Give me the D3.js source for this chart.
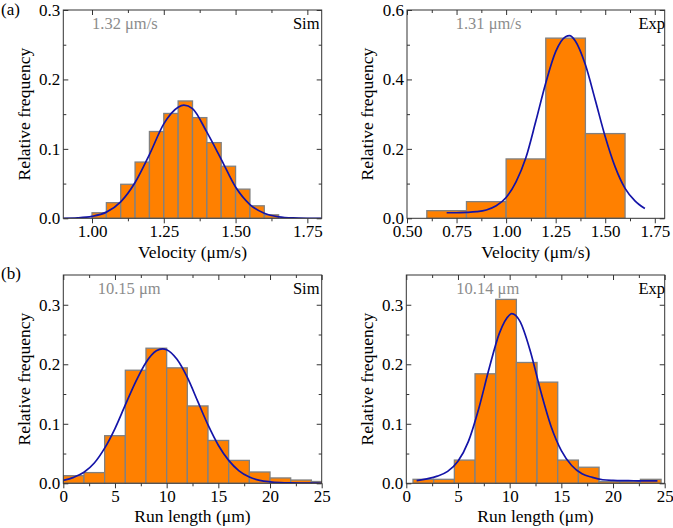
<!DOCTYPE html>
<html><head><meta charset="utf-8">
<script src="https://cdn.jsdelivr.net/npm/d3@7"></script>
<style>body{margin:0;background:#fff} svg text{font-family:"Liberation Serif","Times New Roman",serif;}</style>
</head><body><svg id="c" width="673" height="528"></svg>
<script>
// ---------- DATA ----------
// (a) velocity, simulation
const velSimEdges = [1.00,1.05,1.10,1.15,1.20,1.25,1.30,1.35,1.40,1.45,1.50,1.55,1.60,1.65];
const velSimFreq  = [0.008,0.0225,0.049,0.081,0.125,0.151,0.169,0.145,0.109,0.075,0.042,0.018,0.005];
const velSimFitX  = [0.90,0.95,1.00,1.05,1.10,1.15,1.20,1.25,1.30,1.32,1.35,1.40,1.45,1.50,1.55,1.60,1.65,1.70,1.75,1.80];
const velSimFitY  = [0.0001,0.0007,0.0028,0.0089,0.0237,0.0515,0.0918,0.136,0.160,0.163,0.158,0.124,0.085,0.045,0.0198,0.0072,0.0021,0.0005,0.0001,0];
// (a) velocity, experiment
const velExpEdges = [0.6,0.8,1.0,1.2,1.4,1.6];
const velExpFreq  = [0.022,0.048,0.171,0.519,0.244];
const velExpFitX  = [0.70,0.75,0.80,0.85,0.90,0.95,1.00,1.05,1.10,1.15,1.20,1.25,1.30,1.32,1.35,1.40,1.45,1.50,1.55,1.60,1.65,1.70];
const velExpFitY  = [0.016,0.016,0.017,0.019,0.024,0.036,0.060,0.105,0.175,0.280,0.390,0.480,0.523,0.526,0.510,0.442,0.340,0.235,0.148,0.086,0.050,0.028];
// (b) run length, simulation
const runSimEdges = [0,2,4,6,8,10,12,14,16,18,20,22,24,26];
const runSimFreq  = [0.0128,0.018,0.080,0.190,0.227,0.194,0.130,0.072,0.0385,0.019,0.009,0.0055,0.003];
const runSimFitX  = [0,1,2,3,4,5,6,7,8,9,9.6,10,11,12,13,14,15,16,17,18,19,20,21,22,23,24,25];
const runSimFitY  = [0.0049,0.0100,0.0185,0.034,0.059,0.092,0.1317,0.1705,0.2031,0.2226,0.226,0.2245,0.2083,0.1778,0.138,0.098,0.064,0.0385,0.021,0.0105,0.005,0.0025,0.0012,0.0006,0.0003,0.0002,0.0001];
// (b) run length, experiment
const runExpEdges = [0.65,2.65,4.65,6.65,8.65,10.65,12.65,14.65,16.65,18.65,20.65,22.65,24.65];
const runExpFreq  = [0.0067,0.0067,0.039,0.184,0.309,0.203,0.170,0.039,0.027,0.003,0.003,0.0067];
const runExpFitX  = [1,2,3,4,5,6,7,8,9,10,10.2,11,12,13,14,15,16,17,18,19,20,21,22,23,24.3];
const runExpFitY  = [0.0045,0.0075,0.012,0.020,0.037,0.070,0.125,0.192,0.252,0.283,0.285,0.272,0.222,0.155,0.096,0.055,0.030,0.016,0.010,0.006,0.0048,0.0044,0.0043,0.0042,0.0042];

// ticks
const velSimXTicks = [1.00,1.25,1.50,1.75];
const velSimXLabels = ["1.00","1.25","1.50","1.75"];
const velSimXMinor = [1.125,1.375,1.625];
const velExpXTicks = [0.50,0.75,1.00,1.25,1.50,1.75];
const velExpXLabels = ["0.50","0.75","1.00","1.25","1.50","1.75"];
const velExpXMinor = [0.625,0.875,1.125,1.375,1.625];
const runXTicks = [0,5,10,15,20,25];
const runXLabels = ["0","5","10","15","20","25"];
const runXMinor = [2.5,7.5,12.5,17.5,22.5];
const y03Ticks = [0,0.1,0.2,0.3];
const y03Labels = ["0.0","0.1","0.2","0.3"];
const y03Minor = [0.05,0.15,0.25];
const y06Ticks = [0,0.2,0.4,0.6];
const y06Labels = ["0.0","0.2","0.4","0.6"];
const y06Minor = [0.1,0.3,0.5];

// texts
const meanLabels = ["1.32 μm/s","1.31 μm/s","10.15 μm","10.14 μm"];
const sourceLabels = ["Sim","Exp","Sim","Exp"];
const xTitles = ["Velocity (μm/s)","Velocity (μm/s)","Run length (μm)","Run length (μm)"];
const yTitle = "Relative frequency";
const panelTags = ["(a)","(b)"];

// ---------- DRAW ----------
const svg = d3.select("#c");
const FONT = '"Liberation Serif","Times New Roman",serif';
const AX = "#333";
const TICKFS = 17, TITLEFS = 17.5, ANNFS = 16.5;

function panel(p){
  const x = d3.scaleLinear().domain(p.xDomain).range([p.L,p.R]);
  const y = d3.scaleLinear().domain(p.yDomain).range([p.B,p.T]);
  const g = svg.append("g");
  const cid = "clip"+p.id;
  svg.append("clipPath").attr("id",cid).append("rect")
    .attr("x",p.L).attr("y",p.T).attr("width",p.R-p.L).attr("height",p.B-p.T);
  const bars = p.freq.map((v,i)=>({x0:p.edges[i],x1:p.edges[i+1],v}));
  g.append("g").attr("clip-path",`url(#${cid})`).selectAll("rect").data(bars).join("rect")
    .attr("x",d=>x(d.x0)).attr("y",d=>y(d.v))
    .attr("width",d=>x(d.x1)-x(d.x0)).attr("height",d=>y(0)-y(d.v))
    .attr("fill","#ff8000").attr("stroke","#808080").attr("stroke-width",1.3);
  const line = d3.line().x(d=>x(d[0])).y(d=>y(d[1])).curve(d3.curveMonotoneX);
  g.append("path").attr("clip-path",`url(#${cid})`)
    .datum(p.fitX.map((v,i)=>[v,p.fitY[i]]))
    .attr("d",line).attr("fill","none").attr("stroke","#1414a8").attr("stroke-width",1.7);

  function addAxis(axis, tx, ty){
    const a = g.append("g").attr("transform",`translate(${tx},${ty})`).call(axis);
    a.select(".domain").remove();
    a.selectAll("line").attr("stroke",AX);
    a.attr("font-size",TICKFS).attr("font-family",FONT);
    a.selectAll("text").attr("fill","#000");
    return a;
  }
  // bottom (outward)
  addAxis(d3.axisBottom(x).tickValues(p.xTicks).tickFormat((d,i)=>p.xLabels[i]).tickSizeInner(5).tickSizeOuter(0).tickPadding(2),0,p.B);
  addAxis(d3.axisBottom(x).tickValues(p.xMinor).tickFormat("").tickSizeInner(3).tickSizeOuter(0),0,p.B);
  // top (inward)
  addAxis(d3.axisTop(x).tickValues(p.xTicks).tickFormat("").tickSizeInner(-5).tickSizeOuter(0),0,p.T);
  addAxis(d3.axisTop(x).tickValues(p.xMinor).tickFormat("").tickSizeInner(-3).tickSizeOuter(0),0,p.T);
  // left (inward)
  addAxis(d3.axisLeft(y).tickValues(p.yTicks).tickFormat((d,i)=>p.yLabels[i]).tickSizeInner(-5).tickSizeOuter(0).tickPadding(3),p.L,0);
  addAxis(d3.axisLeft(y).tickValues(p.yMinor).tickFormat("").tickSizeInner(-3).tickSizeOuter(0),p.L,0);
  // right (inward)
  addAxis(d3.axisRight(y).tickValues(p.yTicks).tickFormat("").tickSizeInner(-5).tickSizeOuter(0),p.R,0);
  addAxis(d3.axisRight(y).tickValues(p.yMinor).tickFormat("").tickSizeInner(-3).tickSizeOuter(0),p.R,0);

  g.append("rect").attr("x",p.L).attr("y",p.T).attr("width",p.R-p.L).attr("height",p.B-p.T)
    .attr("fill","none").attr("stroke",AX).attr("stroke-width",1);

  g.append("text").attr("x",(p.L+p.R)/2).attr("y",p.xTitleY).attr("text-anchor","middle")
    .attr("font-size",TITLEFS).text(p.xTitle);
  g.append("text").attr("transform",`translate(${p.yTitleX},${(p.T+p.B)/2}) rotate(-90)`)
    .attr("text-anchor","middle").attr("font-size",TITLEFS).text(yTitle);
  g.append("text").attr("x",p.meanX).attr("y",p.annY).attr("font-size",ANNFS).attr("fill","#8c8c8c").text(p.mean);
  g.append("text").attr("x",p.srcX).attr("y",p.annY).attr("text-anchor","end").attr("font-size",ANNFS).attr("fill","#000").text(p.src);
}

panel({id:0,L:63.3,R:321.7,T:10,B:218.3,xDomain:[0.9,1.8],yDomain:[0,0.3],
  edges:velSimEdges,freq:velSimFreq,fitX:velSimFitX,fitY:velSimFitY,
  xTicks:velSimXTicks,xLabels:velSimXLabels,xMinor:velSimXMinor,
  yTicks:y03Ticks,yLabels:y03Labels,yMinor:y03Minor,
  xTitle:xTitles[0],xTitleY:258,yTitleX:30,mean:meanLabels[0],meanX:92,src:sourceLabels[0],srcX:319.5,annY:29});
panel({id:1,L:407,R:664.7,T:10,B:218.3,xDomain:[0.5,1.8],yDomain:[0,0.6],
  edges:velExpEdges,freq:velExpFreq,fitX:velExpFitX,fitY:velExpFitY,
  xTicks:velExpXTicks,xLabels:velExpXLabels,xMinor:velExpXMinor,
  yTicks:y06Ticks,yLabels:y06Labels,yMinor:y06Minor,
  xTitle:xTitles[1],xTitleY:258,yTitleX:372.5,mean:meanLabels[1],meanX:455.7,src:sourceLabels[1],srcX:665,annY:29});
panel({id:2,L:63.3,R:321.7,T:275,B:483.3,xDomain:[0,25],yDomain:[0,0.35],
  edges:runSimEdges,freq:runSimFreq,fitX:runSimFitX,fitY:runSimFitY,
  xTicks:runXTicks,xLabels:runXLabels,xMinor:runXMinor,
  yTicks:y03Ticks,yLabels:y03Labels,yMinor:y03Minor,
  xTitle:xTitles[2],xTitleY:521.5,yTitleX:30,mean:meanLabels[2],meanX:97.7,src:sourceLabels[2],srcX:319.5,annY:294});
panel({id:3,L:406.3,R:664.7,T:275,B:483.3,xDomain:[0,25],yDomain:[0,0.35],
  edges:runExpEdges,freq:runExpFreq,fitX:runExpFitX,fitY:runExpFitY,
  xTicks:runXTicks,xLabels:runXLabels,xMinor:runXMinor,
  yTicks:y03Ticks,yLabels:y03Labels,yMinor:y03Minor,
  xTitle:xTitles[3],xTitleY:521.5,yTitleX:372.5,mean:meanLabels[3],meanX:456.3,src:sourceLabels[3],srcX:665,annY:294});

svg.append("text").attr("x",1).attr("y",15).attr("font-size",17).text(panelTags[0]);
svg.append("text").attr("x",1).attr("y",279).attr("font-size",17).text(panelTags[1]);
</script></body></html>
